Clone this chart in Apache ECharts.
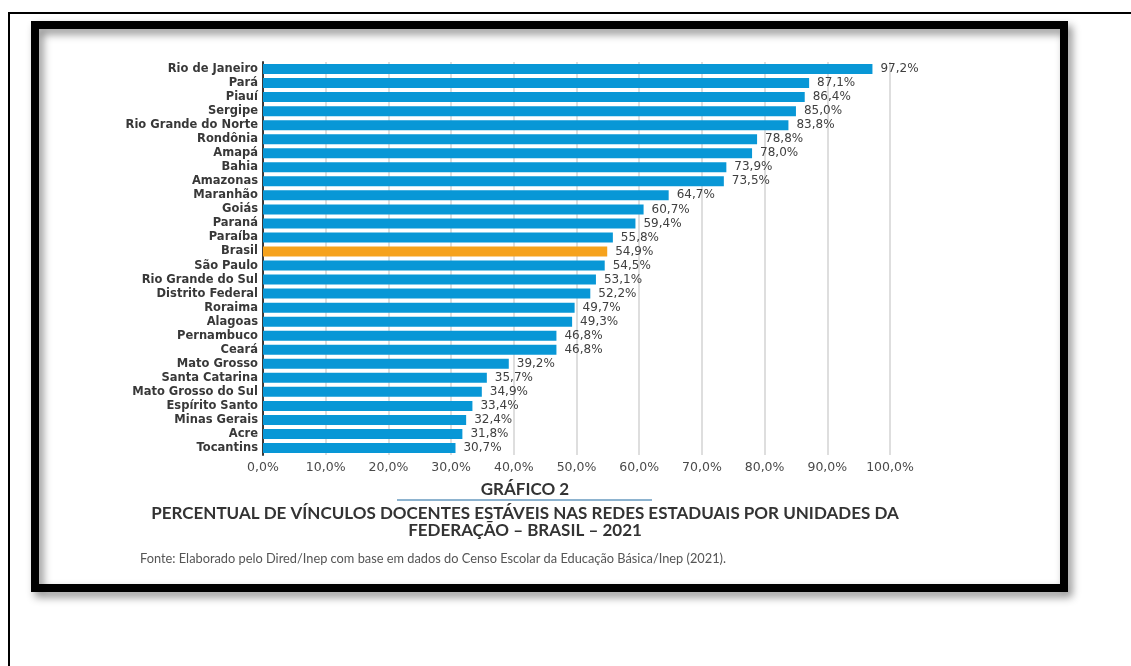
<!DOCTYPE html>
<html>
<head>
<meta charset="utf-8">
<script src="https://cdn.jsdelivr.net/npm/echarts@6/dist/echarts.min.js"></script>
<style>
html,body{margin:0;padding:0;background:#fff;}
#chart{width:1131px;height:666px;}
</style>
</head>
<body>
<div id="chart"></div>
<script>
var categories = ['Rio de Janeiro','Pará','Piauí','Sergipe','Rio Grande do Norte','Rondônia','Amapá','Bahia','Amazonas','Maranhão','Goiás','Paraná','Paraíba','Brasil','São Paulo','Rio Grande do Sul','Distrito Federal','Roraima','Alagoas','Pernambuco','Ceará','Mato Grosso','Santa Catarina','Mato Grosso do Sul','Espírito Santo','Minas Gerais','Acre','Tocantins'];
var values = [97.2,87.1,86.4,85.0,83.8,78.8,78.0,73.9,73.5,64.7,60.7,59.4,55.8,54.9,54.5,53.1,52.2,49.7,49.3,46.8,46.8,39.2,35.7,34.9,33.4,32.4,31.8,30.7];
var highlight = 'Brasil';
var tickLabels = ['0,0%','10,0%','20,0%','30,0%','40,0%','50,0%','60,0%','70,0%','80,0%','90,0%','100,0%'];
var chartLabel = 'GRÁFICO 2';
var titleLines = ['PERCENTUAL DE VÍNCULOS DOCENTES ESTÁVEIS NAS REDES ESTADUAIS POR UNIDADES DA', 'FEDERAÇÃO – BRASIL – 2021'];
var sourceText = 'Fonte: Elaborado pelo Dired/Inep com base em dados do Censo Escolar da Educação Básica/Inep (2021).';

function pct(v){ return v.toFixed(1).replace('.', ',') + '%'; }

var chart = echarts.init(document.getElementById('chart'), null, {renderer:'canvas'});
var option = {
  animation: false,
  backgroundColor: '#ffffff',
  grid: { left: 263, top: 62, width: 627, height: 393, containLabel: false },
  xAxis: {
    type: 'value', min: 0, max: 100, interval: 10,
    axisLine: { show: false }, axisTick: { show: false },
    splitLine: { show: true, lineStyle: { color: '#d3d3d3', width: 1.5 } },
    axisLabel: {
      margin: 6, color: '#4a4a4a', fontFamily: 'DejaVu Sans', fontSize: 12.5,
      formatter: function(v){ return tickLabels[Math.round(v/10)]; }
    }
  },
  yAxis: {
    type: 'category', inverse: true, data: categories,
    axisLine: { show: true, lineStyle: { color: '#3a3a3a', width: 2 } },
    axisTick: { show: false },
    axisLabel: { interval: 0, margin: 5, color: '#383838', fontFamily: 'DejaVu Sans', fontSize: 11.5, fontWeight: 'bold' }
  },
  series: [{
    type: 'bar', barWidth: 10,
    data: values.map(function(v, i){
      return { value: v, itemStyle: { color: categories[i] === highlight ? '#f6a21c' : '#0897d6' } };
    }),
    label: {
      show: true, position: 'right', distance: 8,
      color: '#404040', fontFamily: 'DejaVu Sans', fontSize: 12,
      formatter: function(p){ return pct(p.value); }
    }
  }],
  graphic: [
    { type: 'line', shape: { x1: 8, y1: 13, x2: 1131, y2: 13 }, style: { stroke: '#000', lineWidth: 2 }, silent: true },
    { type: 'line', shape: { x1: 9, y1: 12, x2: 9, y2: 666 }, style: { stroke: '#000', lineWidth: 2 }, silent: true },
    { type: 'rect', shape: { x: 35, y: 25, width: 1029, height: 563 },
      style: { fill: 'transparent', stroke: '#000', lineWidth: 8, shadowBlur: 8, shadowOffsetX: 4, shadowOffsetY: 5, shadowColor: 'rgba(0,0,0,0.45)' }, silent: true },
    { type: 'text', x: 525, y: 490, style: { text: chartLabel, fill: '#333', font: 'bold 17px Lato', textAlign: 'center', textVerticalAlign: 'middle' } },
    { type: 'line', shape: { x1: 397, y1: 500, x2: 652, y2: 500 }, style: { stroke: '#8db3cf', lineWidth: 2 } },
    { type: 'text', x: 525, y: 514, style: { text: titleLines[0], fill: '#333', font: 'bold 17px Lato', textAlign: 'center', textVerticalAlign: 'middle' } },
    { type: 'text', x: 525, y: 531, style: { text: titleLines[1], fill: '#333', font: 'bold 17px Lato', textAlign: 'center', textVerticalAlign: 'middle' } },
    { type: 'text', x: 140, y: 559, style: { text: sourceText, fill: '#555', font: '12.8px Lato', textAlign: 'left', textVerticalAlign: 'middle' } }
  ]
};
chart.setOption(option);
</script>
</body>
</html>
